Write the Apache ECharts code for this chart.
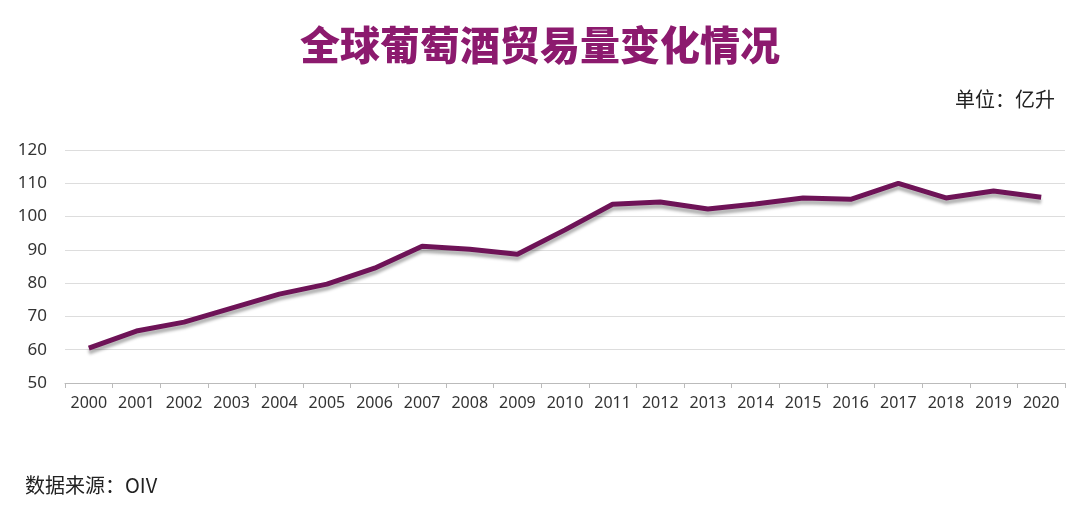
<!DOCTYPE html>
<html><head><meta charset="utf-8">
<script src="https://cdn.jsdelivr.net/npm/echarts@6/dist/echarts.min.js"></script>
<style>html,body{margin:0;padding:0;background:#fff}#c{width:1080px;height:510px}</style>
</head><body><div id="c"></div>
<script>
const years = ['2000','2001','2002','2003','2004','2005','2006','2007','2008','2009','2010','2011','2012','2013','2014','2015','2016','2017','2018','2019','2020'];
const volume = [60.5,65.6,68.3,72.5,76.7,79.7,84.5,91.1,90.2,88.7,96,103.7,104.4,102.3,103.8,105.6,105.2,110,105.6,107.7,105.8];
const chart = echarts.init(document.getElementById('c'));
chart.setOption({
  backgroundColor:'#fff',
  title:[
    {text:'全球葡萄酒贸易量变化情况',left:'center',top:20,textStyle:{fontFamily:'Noto Sans CJK SC',fontWeight:900,fontSize:40,color:'#8c1a6e'}},
    {text:'单位：亿升',right:20,top:84,textStyle:{fontFamily:'Noto Sans CJK SC',fontWeight:'normal',fontSize:20,color:'#222'}},
    {text:'数据来源：OIV',left:20,top:470,textStyle:{fontFamily:'Noto Sans CJK SC',fontWeight:'normal',fontSize:20,color:'#222'}}
  ],
  grid:{left:65,right:15,top:150,bottom:127},
  xAxis:{type:'category',data:years,boundaryGap:true,
    axisLine:{lineStyle:{color:'#bbb'}},axisTick:{show:true,interval:0,lineStyle:{color:'#bbb'}},
    axisLabel:{color:'#333',fontSize:16,margin:12,interval:0,fontFamily:'Noto Sans'}},
  yAxis:{type:'value',min:50,max:120,interval:10,
    axisLabel:{color:'#333',fontSize:17,margin:18,fontFamily:'Noto Sans'},
    splitLine:{lineStyle:{color:'#ddd'}},axisLine:{show:false},axisTick:{show:false}},
  series:[{type:'line',data:volume,symbol:'none',
    lineStyle:{color:'#6e1357',width:5,shadowColor:'rgba(0,0,0,0.3)',shadowBlur:3,shadowOffsetY:4}}]
});
</script></body></html>
